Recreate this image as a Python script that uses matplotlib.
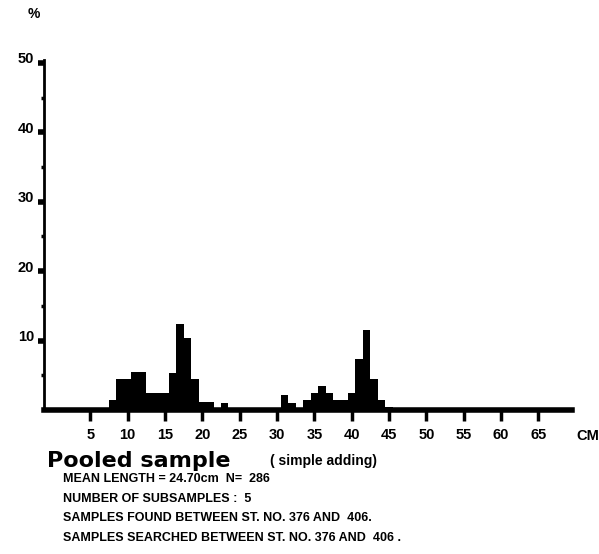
import matplotlib
matplotlib.use("Agg")
import matplotlib.pyplot as plt
import matplotlib.transforms as mtransforms

# length classes (cm) and percentage of the pooled sample
lengths = [8, 9, 10, 11, 12, 13, 14, 15, 16, 17, 18, 19, 20, 21, 23,
           31, 32, 34, 35, 36, 37, 38, 39, 40, 41, 42, 43, 44, 45]
percent = [1.4, 4.4, 4.4, 5.5, 5.5, 2.4, 2.4, 2.4, 5.4, 12.4, 10.4, 4.4, 1.2, 1.2, 1.0,
           2.1, 1.0, 1.4, 2.4, 3.4, 2.4, 1.4, 1.4, 2.4, 7.4, 11.5, 4.5, 1.4, 0.4]

xticks = [5, 10, 15, 20, 25, 30, 35, 40, 45, 50, 55, 60, 65]
yticks = [10, 20, 30, 40, 50]
yminor = [5, 15, 25, 35, 45]

info_lines = [
    "MEAN LENGTH = 24.70cm  N=  286",
    "NUMBER OF SUBSAMPLES :  5",
    "SAMPLES FOUND BETWEEN ST. NO. 376 AND  406.",
    "SAMPLES SEARCHED BETWEEN ST. NO. 376 AND  406 .",
]

narrow = ["Liberation Sans", "DejaVu Sans"]

W, H = 599, 554
fig = plt.figure(figsize=(W / 100, H / 100), dpi=100)
ax = fig.add_axes([44 / W, 1 - 410 / H, 528 / W, 350.5 / H])

ax.bar(lengths, percent, width=1.0, color="black", align="center")

ax.set_xlim(-1.2, 69.5)
ax.set_ylim(0, 50.5)

for s in ["top", "right"]:
    ax.spines[s].set_visible(False)
ax.spines["bottom"].set_linewidth(4)
ax.spines["left"].set_linewidth(2)

ax.set_xticks(xticks)
ax.set_xticklabels([str(t) for t in xticks], family=narrow, weight="bold", fontsize=10.5)
ax.tick_params(axis="x", direction="out", length=8, width=2.5, pad=5)

ax.set_yticks(yticks)
ax.set_yticklabels([str(t) for t in yticks], family=narrow, weight="bold", fontsize=10.5)
ax.set_yticks(yminor, minor=True)
ax.tick_params(axis="y", which="major", direction="out", length=4, width=4, pad=3)
ax.tick_params(axis="y", which="minor", direction="out", length=2, width=2.5)

# y labels sit a little above their tick marks
up = mtransforms.ScaledTranslation(0, 5 / 100, fig.dpi_scale_trans)
for lab in ax.get_yticklabels():
    lab.set_transform(lab.get_transform() + up)

fig.text(34 / W, 1 - 14 / H, "%", family=narrow, weight="bold", fontsize=10,
         ha="center", va="center")
fig.text(588 / W, 1 - 436 / H, "CM", family=narrow, weight="bold", fontsize=10.5,
         ha="center", va="center")

fig.text(47 / W, 1 - 461 / H, "Pooled sample", family="DejaVu Sans", weight="bold",
         fontsize=16, ha="left", va="center")
fig.text(270 / W, 1 - 461 / H, "( simple adding)", family=narrow, weight="bold",
         fontsize=10, ha="left", va="center")

for i, line in enumerate(info_lines):
    fig.text(63 / W, 1 - (479 + 19.7 * i) / H, line, family=narrow, weight="bold",
             fontsize=9, ha="left", va="center")

fig.savefig("out.png", dpi=100)
